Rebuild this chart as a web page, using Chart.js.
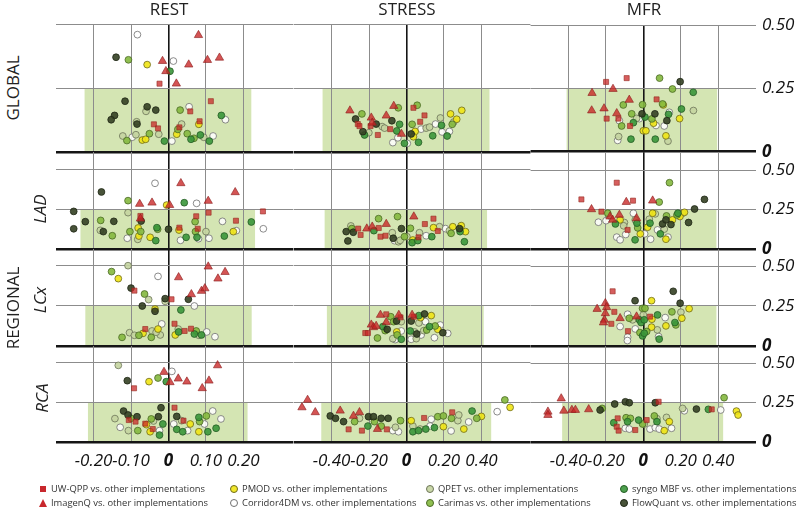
<!DOCTYPE html>
<html lang="en">
<head>
<meta charset="UTF-8" />
<title>Repeatability scatter panels</title>
<script src="https://cdn.jsdelivr.net/npm/chart.js"></script>
<style>
  * { margin: 0; padding: 0; box-sizing: border-box; }
  body { background: #fff; font-family: "Open Sans", sans-serif; color: #222; }
  #wrap { position: relative; width: 800px; height: 509px; overflow: hidden; background: #fff; }
  #wrap canvas { position: absolute; }
  .txt { position: absolute; white-space: nowrap; line-height: 1; }
  .title { font-size: 17px; transform: translate(-50%, 0); }
  .rot { transform: translate(-50%, -50%) rotate(-90deg); font-size: 17px; }
  .it { font-style: italic; }
  .leg { position: absolute; font-size: 9.4px; color: #333; white-space: nowrap; line-height: 1; transform: translateY(-50%); }
  .mk { position: absolute; transform: translate(-50%, -50%); }
  .sq { width: 6px; height: 6px; background: #c8282d; }
  .tri { width: 0; height: 0; border-left: 4.5px solid transparent; border-right: 4.5px solid transparent; border-bottom: 8px solid #c8282d; }
  .dot { width: 8px; height: 8px; border-radius: 50%; border: 1px solid #666; }
</style>
</head>
<body>
<div id="wrap"></div>
<script>
  // series codes: U UW-QPP, I ImagenQ, P PMOD, C Corridor4DM, Q QPET, A Carimas, S syngo MBF, F FlowQuant
  const columns = ['REST', 'STRESS', 'MFR'];
  const rowNames = ['GLOBAL', 'LAD', 'LCx', 'RCA'];
  const xTicksRest = [-0.2, -0.1, 0, 0.1, 0.2];
  const xTicksWide = [-0.4, -0.2, 0, 0.2, 0.4];
  const yTicks = [0, 0.25, 0.5];

  // shaded agreement boxes [lo, hi] per row
  const restBoxes = [[-0.224, 0.221], [-0.235, 0.231], [-0.222, 0.222], [-0.215, 0.211]];
  const stressBoxes = [[-0.448, 0.443], [-0.437, 0.43], [-0.425, 0.412], [-0.455, 0.452]];
  const mfrBoxes = [[-0.41, 0.395], [-0.4, 0.391], [-0.4, 0.391], [-0.434, 0.427]];

  const REST_GLOBAL = [
    ['C',-0.083,0.462],['I',0.08,0.46],['F',-0.14,0.373],['A',-0.107,0.363],['P',-0.057,0.344],['I',-0.016,0.358],
    ['C',0.013,0.358],['I',0.054,0.344],['I',0.104,0.362],['I',0.136,0.371],['I',-0.007,0.318],['S',0.004,0.318],
    ['U',-0.024,0.269],['I',0.021,0.269],['F',-0.116,0.2],['U',0.113,0.2],['F',-0.057,0.178],['F',-0.034,0.165],
    ['Q',-0.06,0.16],['A',0.031,0.165],['C',0.055,0.178],['U',0.058,0.16],['F',-0.144,0.144],['F',-0.153,0.127],
    ['S',0.141,0.144],['C',0.152,0.127],['Q',-0.085,0.119],['F',-0.084,0.11],['U',-0.039,0.109],['U',-0.028,0.093],
    ['Q',0.035,0.11],['U',0.029,0.097],['A',0.025,0.089],['P',0.081,0.109],['U',0.083,0.121],['Q',-0.122,0.063],
    ['A',-0.111,0.045],['C',-0.097,0.058],['Q',-0.087,0.068],['P',-0.07,0.047],['P',-0.061,0.05],['A',-0.051,0.072],
    ['Q',-0.026,0.07],['S',-0.011,0.043],['C',0.009,0.043],['P',0.022,0.07],['A',0.05,0.072],['S',0.06,0.05],
    ['A',0.068,0.054],['S',0.085,0.067],['Q',0.094,0.058],['S',0.109,0.043],['C',0.119,0.063]
  ];
  const STRESS_GLOBAL = [
    ['I',-0.302,0.163],['A',-0.238,0.15],['F',-0.272,0.13],['U',-0.26,0.11],['U',-0.251,0.102],['I',-0.188,0.135],
    ['U',-0.192,0.102],['I',-0.183,0.115],['F',-0.233,0.08],['S',-0.224,0.067],['Q',-0.201,0.076],['F',-0.162,0.11],
    ['U',-0.153,0.067],['Q',-0.13,0.1],['Q',-0.117,0.094],['I',-0.108,0.143],['U',-0.087,0.09],['I',-0.068,0.181],
    ['A',-0.044,0.174],['F',-0.078,0.123],['S',-0.037,0.109],['S',-0.052,0.083],['C',-0.046,0.056],['I',-0.027,0.071],
    ['C',-0.073,0.037],['S',-0.011,0.034],['C',0.004,0.034],['U',0.037,0.174],['A',0.057,0.184],['U',0.096,0.144],
    ['U',0.073,0.119],['A',0.03,0.109],['C',0.078,0.09],['P',0.046,0.081],['F',0.025,0.071],['P',0.037,0.06],
    ['S',0.064,0.038],['Q',0.105,0.094],['Q',0.123,0.098],['C',0.155,0.11],['Q',0.181,0.134],['S',0.187,0.105],
    ['C',0.19,0.079],['S',0.14,0.064],['S',0.217,0.063],['C',0.229,0.081],['A',0.244,0.109],['P',0.235,0.15],
    ['P',0.268,0.129],['P',0.295,0.164],['Q',0.252,0.118]
  ];
  const MFR_GLOBAL = [
    ['U',-0.199,0.276],['U',-0.089,0.291],['A',0.087,0.291],['F',0.197,0.277],['I',-0.274,0.232],['I',-0.162,0.248],
    ['A',0.156,0.248],['S',0.267,0.235],['I',-0.276,0.163],['I',-0.21,0.171],['U',-0.196,0.131],['I',-0.142,0.152],
    ['I',-0.075,0.205],['A',-0.107,0.185],['U',-0.133,0.131],['C',-0.128,0.123],['A',-0.116,0.102],['U',-0.071,0.102],
    ['A',-0.062,0.15],['S',-0.053,0.115],['Q',-0.036,0.132],['A',-0.004,0.186],['F',-0.007,0.15],['S',0.009,0.137],
    ['C',-0.021,0.131],['P',0,0.083],['P',0.014,0.083],['A',0.046,0.13],['F',0.062,0.15],['P',0.055,0.113],
    ['C',0.068,0.104],['P',0.107,0.185],['U',0.071,0.207],['A',0.103,0.189],['C',0.139,0.156],['S',0.135,0.148],
    ['F',0.126,0.123],['C',0.112,0.102],['S',0.204,0.169],['P',0.194,0.131],['Q',0.268,0.163],['Q',-0.132,0.06],
    ['C',-0.137,0.045],['S',-0.066,0.05],['S',0.064,0.05],['P',0.121,0.063],['Q',0.132,0.042]
  ];
  const REST_LAD = [
    ['C',-0.036,0.416],['I',0.033,0.416],['F',-0.179,0.361],['I',0.178,0.359],['A',-0.108,0.306],['I',-0.077,0.285],
    ['I',-0.044,0.293],['P',-0.005,0.278],['I',0.003,0.278],['S',0.042,0.293],['C',0.075,0.289],['I',0.106,0.304],
    ['F',-0.253,0.238],['Q',-0.108,0.23],['U',0.252,0.238],['F',-0.253,0.128],['F',-0.222,0.173],['A',-0.181,0.181],
    ['F',-0.146,0.175],['Q',-0.182,0.118],['F',-0.174,0.11],['A',-0.15,0.084],['U',-0.075,0.209],['I',-0.075,0.192],
    ['F',-0.073,0.177],['A',-0.103,0.11],['C',-0.11,0.068],['P',-0.081,0.133],['A',-0.074,0.11],['P',-0.079,0.082],
    ['Q',-0.082,0.061],['P',-0.049,0.074],['S',-0.034,0.053],['S',-0.031,0.135],['A',-0.029,0.125],['F',0,0.125],
    ['U',0.029,0.135],['P',0.028,0.12],['C',0.032,0.055],['S',0.047,0.074],['U',0.074,0.207],['A',0.071,0.173],
    ['A',0.072,0.11],['U',0.078,0.128],['S',0.076,0.074],['C',0.08,0.065],['Q',0.1,0.11],['C',0.108,0.068],
    ['U',0.107,0.23],['S',0.149,0.082],['C',0.144,0.175],['U',0.18,0.179],['P',0.173,0.11],['C',0.181,0.116],
    ['S',0.221,0.171],['C',0.253,0.128]
  ];
  const STRESS_LAD = [
    ['A',-0.149,0.192],['A',-0.048,0.205],['I',0.039,0.205],['U',0.144,0.192],['I',-0.108,0.158],['U',0.098,0.158],
    ['Q',-0.297,0.146],['A',-0.292,0.129],['U',-0.258,0.129],['F',-0.322,0.11],['F',-0.284,0.106],['U',-0.245,0.089],
    ['I',-0.212,0.129],['I',-0.183,0.141],['U',-0.148,0.133],['S',-0.174,0.116],['F',-0.313,0.051],['U',-0.139,0.078],
    ['U',-0.112,0.084],['Q',-0.076,0.103],['F',-0.071,0.068],['C',-0.064,0.053],['Q',-0.043,0.046],['Q',-0.034,0.055],
    ['F',-0.027,0.129],['A',-0.011,0.078],['Q',0.002,0.078],['A',0.021,0.131],['P',0.034,0.057],['S',0.03,0.04],
    ['S',0.06,0.053],['Q',0.069,0.103],['U',0.064,0.074],['C',0.105,0.084],['S',0.135,0.078],['P',0.144,0.135],
    ['U',0.167,0.114],['Q',0.176,0.141],['C',0.208,0.129],['P',0.247,0.141],['A',0.238,0.099],['Q',0.229,0.116],
    ['P',0.292,0.148],['F',0.283,0.129],['S',0.286,0.11],['P',0.315,0.11],['S',0.309,0.046]
  ];
  const MFR_LAD = [
    ['U',-0.142,0.42],['A',0.14,0.42],['U',-0.331,0.314],['I',-0.091,0.297],['U',-0.055,0.306],['I',0.05,0.306],
    ['A',0.085,0.297],['F',0.327,0.314],['F',0.274,0.253],['I',-0.277,0.251],['U',-0.224,0.236],['C',-0.24,0.169],
    ['A',-0.19,0.226],['I',-0.178,0.205],['I',-0.164,0.184],['I',-0.128,0.215],['C',-0.199,0.179],['S',-0.149,0.158],
    ['P',-0.124,0.184],['Q',-0.101,0.167],['Q',-0.105,0.146],['U',-0.084,0.12],['C',-0.053,0.226],['Q',-0.043,0.184],
    ['I',-0.036,0.194],['S',-0.034,0.163],['A',-0.03,0.133],['C',-0.094,0.091],['C',-0.142,0.074],['C',-0.124,0.057],
    ['S',-0.044,0.057],['P',-0.016,0.095],['C',0.007,0.095],['C',0.039,0.061],['P',0.023,0.137],['Q',0.032,0.188],
    ['S',0.036,0.163],['P',0.05,0.226],['Q',0.064,0.222],['C',0.076,0.12],['S',0.091,0.095],['P',0.121,0.061],
    ['C',0.132,0.074],['Q',0.112,0.125],['F',0.103,0.158],['F',0.121,0.184],['A',0.124,0.209],['P',0.156,0.184],
    ['F',0.148,0.154],['A',0.18,0.215],['S',0.185,0.226],['P',0.196,0.205],['Q',0.21,0.226],['P',0.22,0.232],
    ['F',0.242,0.167]
  ];
  const REST_LCX = [
    ['Q',-0.108,0.502],['A',-0.152,0.465],['P',-0.134,0.421],['C',-0.028,0.435],['I',0.106,0.496],['I',0.151,0.462],
    ['I',0.027,0.429],['I',0.132,0.421],['F',-0.1,0.362],['U',-0.091,0.346],['A',-0.064,0.325],['Q',-0.053,0.29],
    ['F',-0.009,0.296],['Q',-0.009,0.279],['U',0.008,0.292],['I',0.061,0.323],['I',0.088,0.344],['I',0.097,0.36],
    ['F',0.053,0.292],['C',0.069,0.25],['F',-0.07,0.25],['P',-0.036,0.231],['F',-0.036,0.217],['S',0.033,0.225],
    ['C',-0.018,0.138],['U',0.016,0.139],['Q',-0.104,0.083],['A',-0.124,0.054],['Q',-0.091,0.067],['A',-0.079,0.067],
    ['P',-0.068,0.079],['U',-0.062,0.106],['Q',-0.044,0.094],['A',-0.046,0.054],['P',-0.028,0.106],['Q',-0.022,0.069],
    ['Q',-0.033,0.086],['P',0.018,0.069],['S',0.027,0.088],['Q',0.026,0.106],['U',0.043,0.094],['U',0.06,0.108],
    ['S',0.069,0.075],['A',0.074,0.094],['Q',0.081,0.067],['S',0.088,0.069],['C',0.102,0.088],['C',0.124,0.058]
  ];
  const STRESS_LCX = [
    ['I',-0.139,0.194],['U',-0.108,0.198],['A',-0.084,0.183],['I',-0.041,0.194],['U',-0.032,0.179],['I',0.03,0.194],
    ['U',0.039,0.183],['S',0.066,0.19],['F',0.096,0.2],['P',0.075,0.177],['P',0.132,0.19],['I',-0.108,0.148],
    ['A',-0.069,0.152],['F',-0.053,0.156],['Q',-0.028,0.152],['F',0.025,0.156],['Q',0.066,0.144],['C',0.101,0.152],
    ['I',-0.188,0.133],['I',-0.176,0.117],['I',-0.162,0.125],['U',-0.22,0.081],['U',-0.206,0.081],['S',-0.126,0.121],
    ['F',-0.103,0.104],['A',-0.114,0.096],['P',-0.052,0.088],['C',-0.028,0.094],['A',-0.155,0.05],['Q',-0.073,0.046],
    ['A',-0.05,0.069],['S',-0.028,0.042],['C',-0.06,0.04],['S',0.02,0.094],['Q',0.043,0.088],['F',0.055,0.075],
    ['C',0.025,0.042],['Q',0.052,0.046],['C',0.078,0.069],['A',0.108,0.1],['S',0.123,0.121],['C',0.149,0.052],
    ['A',0.153,0.125],['P',0.167,0.104],['C',0.18,0.131],['F',0.194,0.083],['C',0.22,0.079],['Q',0.092,0.096]
  ];
  const MFR_LCX = [
    ['U',-0.164,0.342],['F',0.16,0.342],['F',-0.044,0.283],['P',0.044,0.283],['I',-0.203,0.267],['F',0.197,0.267],
    ['I',-0.247,0.231],['I',-0.196,0.242],['A',-0.004,0.235],['A',0.009,0.235],['P',0.245,0.233],['I',-0.203,0.204],
    ['U',-0.155,0.213],['C',-0.084,0.198],['Q',0,0.194],['S',0.076,0.194],['A',0.153,0.213],['Q',0.201,0.211],
    ['I',-0.208,0.163],['U',-0.171,0.138],['I',-0.213,0.146],['I',-0.124,0.173],['A',-0.075,0.173],['Q',-0.057,0.163],
    ['I',-0.036,0.183],['S',-0.021,0.163],['U',0.036,0.183],['P',0.046,0.167],['C',0.117,0.177],['P',0.206,0.173],
    ['S',0.169,0.146],['A',0.174,0.131],['C',-0.124,0.121],['C',-0.043,0.106],['S',-0.012,0.146],['S',0.005,0.163],
    ['P',0.044,0.117],['Q',0.075,0.1],['P',0.121,0.125],['U',-0.082,0.092],['C',-0.084,0.054],['C',-0.085,0.033],
    ['A',-0.018,0.083],['S',-0.004,0.062],['S',0.005,0.079],['A',0.018,0.09],['C',0.082,0.058],['S',0.085,0.042]
  ];
  const REST_RCA = [
    ['Q',-0.134,0.485],['I',0.131,0.485],['I',-0.012,0.443],['C',0.009,0.447],['A',-0.028,0.405],['F',-0.11,0.388],
    ['P',-0.052,0.382],['S',-0.006,0.382],['I',0.004,0.378],['I',0.026,0.401],['I',0.049,0.382],['I',0.108,0.388],
    ['I',0.09,0.34],['U',-0.092,0.34],['F',-0.02,0.217],['U',0.016,0.217],['F',-0.12,0.196],['F',-0.108,0.171],
    ['A',-0.1,0.15],['U',-0.106,0.139],['F',-0.084,0.16],['U',-0.088,0.129],['Q',-0.143,0.148],['C',-0.129,0.093],
    ['Q',-0.107,0.072],['A',-0.082,0.072],['U',-0.062,0.116],['P',-0.059,0.11],['A',-0.046,0.146],['Q',-0.04,0.133],
    ['F',-0.027,0.16],['U',-0.042,0.082],['P',-0.049,0.065],['S',-0.015,0.114],['S',-0.024,0.044],['C',-0.024,0.072],
    ['F',0.022,0.162],['C',0.014,0.114],['S',0.022,0.08],['Q',0.035,0.135],['U',0.04,0.135],['S',0.038,0.065],
    ['C',0.051,0.072],['P',0.058,0.114],['S',0.081,0.156],['A',0.083,0.129],['P',0.081,0.065],['C',0.096,0.114],
    ['A',0.101,0.165],['C',0.118,0.196],['S',0.105,0.065],['S',0.127,0.087],['C',0.14,0.146]
  ];
  const STRESS_RCA = [
    ['I',-0.528,0.266],['I',-0.558,0.219],['I',-0.487,0.188],['F',-0.407,0.165],['F',-0.379,0.15],['I',-0.354,0.198],
    ['F',-0.336,0.129],['U',-0.309,0.08],['I',-0.283,0.165],['I',-0.251,0.188],['A',-0.277,0.129],['Q',-0.251,0.15],
    ['U',-0.238,0.072],['S',-0.206,0.101],['F',-0.203,0.16],['F',-0.176,0.16],['A',-0.171,0.129],['I',-0.155,0.082],
    ['A',-0.135,0.101],['F',-0.135,0.15],['U',-0.105,0.08],['F',-0.098,0.15],['C',-0.073,0.072],['Q',-0.059,0.093],
    ['C',-0.043,0.065],['A',-0.032,0.135],['P',0.025,0.135],['Q',0.034,0.101],['S',0.034,0.065],['S',0.064,0.072],
    ['Q',0.073,0.082],['U',0.094,0.152],['C',0.132,0.144],['S',0.103,0.082],['C',0.126,0.101],['S',0.149,0.091],
    ['A',0.167,0.16],['A',0.197,0.165],['P',0.197,0.097],['C',0.238,0.07],['U',0.244,0.188],['A',0.24,0.15],
    ['Q',0.274,0.135],['Q',0.279,0.171],['P',0.306,0.082],['C',0.332,0.127],['S',0.35,0.196],['A',0.375,0.15],
    ['P',0.4,0.162],['C',0.484,0.192],['A',0.525,0.266],['P',0.553,0.219]
  ];
  const MFR_RCA = [
    ['I',-0.439,0.276],['I',-0.51,0.192],['I',-0.51,0.171],['I',-0.425,0.198],['I',-0.382,0.203],['I',-0.363,0.203],
    ['I',-0.292,0.207],['F',-0.231,0.203],['A',-0.22,0.213],['F',-0.153,0.241],['F',-0.096,0.255],['F',-0.075,0.249],
    ['F',0.064,0.249],['U',0.082,0.255],['Q',0.21,0.213],['C',0.219,0.198],['F',0.284,0.209],['S',0.348,0.207],
    ['U',0.366,0.207],['C',0.414,0.203],['A',0.432,0.281],['P',0.498,0.196],['P',0.507,0.171],['S',-0.158,0.122],
    ['U',-0.137,0.15],['U',-0.142,0.097],['U',-0.132,0.072],['A',-0.092,0.154],['S',-0.084,0.129],['A',-0.069,0.15],
    ['C',-0.096,0.087],['C',-0.075,0.082],['U',-0.043,0.076],['S',-0.025,0.139],['A',-0.004,0.114],['U',0.018,0.139],
    ['Q',0.005,0.114],['C',0.036,0.082],['C',0.064,0.091],['A',0.059,0.165],['Q',0.073,0.148],['S',0.073,0.129],
    ['P',0.112,0.072],['C',0.085,0.082],['Q',0.124,0.156],['P',0.139,0.129],['C',0.151,0.087]
  ];

  const panels = [
    [REST_GLOBAL, STRESS_GLOBAL, MFR_GLOBAL],
    [REST_LAD, STRESS_LAD, MFR_LAD],
    [REST_LCX, STRESS_LCX, MFR_LCX],
    [REST_RCA, STRESS_RCA, MFR_RCA]
  ];

  // marker looks
  const SERIES = {
    C: { name: 'Corridor4DM', shape: 'circle', r: 3.4, fill: 'rgba(255,255,255,0.85)', line: '#6f6f6f' },
    Q: { name: 'QPET', shape: 'circle', r: 3.4, fill: 'rgba(196,212,160,0.9)', line: '#6c7458' },
    P: { name: 'PMOD', shape: 'circle', r: 3.4, fill: 'rgba(240,228,20,0.9)', line: '#6e6a1c' },
    A: { name: 'Carimas', shape: 'circle', r: 3.4, fill: 'rgba(132,184,62,0.9)', line: '#4a6a25' },
    S: { name: 'syngo MBF', shape: 'circle', r: 3.4, fill: 'rgba(58,150,58,0.9)', line: '#245c24' },
    F: { name: 'FlowQuant', shape: 'circle', r: 3.4, fill: 'rgba(52,64,36,0.9)', line: '#1e2614' },
    U: { name: 'UW-QPP', shape: 'rect', r: 3.6, fill: 'rgba(200,40,40,0.75)', line: 'rgba(150,40,30,0.75)' },
    I: { name: 'ImagenQ', shape: 'triangle', r: 4.8, fill: 'rgba(200,36,36,0.78)', line: 'rgba(140,30,30,0.78)' }
  };

  // layout geometry (pixels): where each panel's plot area must land
  const colGeo = [
    { left: 56, width: 238, center: 169, ppu: 375, ticks: xTicksRest, boxes: restBoxes },
    { left: 294, width: 237, center: 407, ppu: 187.5, ticks: xTicksWide, boxes: stressBoxes },
    { left: 531, width: 226, center: 644, ppu: 187.5, ticks: xTicksWide, boxes: mfrBoxes }
  ];
  const rowGeo = [
    { top: 25, bottom: 152, ppu: 254 },
    { top: 152, bottom: 249, ppu: 158 },
    { top: 249, bottom: 346, ppu: 160 },
    { top: 346, bottom: 442, ppu: 158 }
  ];
  const PAD = 12, RIGHT_AXIS = 44, X_AXIS = 34;
  const FONT = 'Open Sans';

  const boxPlugin = {
    id: 'agreeBox',
    beforeDraw(chart, args, opts) {
      const { ctx, scales: { x, y } } = chart;
      const x0 = x.getPixelForValue(opts.range[0]);
      const x1 = x.getPixelForValue(opts.range[1]);
      const y0 = y.getPixelForValue(0.25);
      const y1 = y.getPixelForValue(0);
      ctx.save();
      ctx.fillStyle = '#d4e5b3';
      ctx.fillRect(x0, y0, x1 - x0, y1 - y0);
      ctx.restore();
    }
  };

  const isZero = c => c.tick && Math.abs(c.tick.value) < 1e-9;
  const tickFont = c => ({ family: FONT, size: 17, style: 'italic', weight: isZero(c) ? 'bold' : 'normal' });
  const fmt = v => (Math.abs(v) < 1e-9 ? '0' : Number(v).toFixed(2));

  const wrap = document.getElementById('wrap');

  function buildChart(ri, ci, cw, ch) {
    const cg = colGeo[ci], rg = rowGeo[ri];
    const lastRow = ri === rowGeo.length - 1;
    const rightCol = ci === colGeo.length - 1;
    const h = rg.bottom - rg.top;
    const canvas = document.createElement('canvas');
    canvas.width = cw; canvas.height = ch;
    wrap.appendChild(canvas);

    const pts = panels[ri][ci];
    const datasets = Object.keys(SERIES).map(code => {
      const s = SERIES[code];
      return {
        label: s.name,
        data: pts.filter(p => p[0] === code).map(p => ({ x: p[1], y: p[2] })),
        pointStyle: s.shape,
        pointRadius: s.r,
        pointBackgroundColor: s.fill,
        pointBorderColor: s.line,
        pointBorderWidth: 0.8,
        showLine: false,
        clip: false
      };
    }).reverse();

    const chart = new Chart(canvas, {
      type: 'scatter',
      data: { datasets },
      plugins: [boxPlugin],
      options: {
        responsive: false,
        maintainAspectRatio: false,
        animation: false,
        devicePixelRatio: 1,
        events: [],
        layout: { padding: { top: PAD, bottom: lastRow ? 0 : PAD, left: 0, right: 0 } },
        plugins: {
          legend: { display: false },
          tooltip: { enabled: false },
          agreeBox: { range: cg.boxes[ri] }
        },
        scales: {
          x: {
            type: 'linear',
            min: (cg.left - cg.center) / cg.ppu,
            max: (cg.left + cg.width - cg.center) / cg.ppu,
            afterBuildTicks: s => { s.ticks = cg.ticks.map(v => ({ value: v })); },
            afterFit: s => { s.height = lastRow ? X_AXIS : 0; },
            border: { display: false },
            grid: {
              drawTicks: false,
              color: c => (isZero(c) ? '#151515' : '#8c8c8c'),
              lineWidth: c => (isZero(c) ? 1.6 : 1)
            },
            ticks: {
              display: lastRow,
              autoSkip: false,
              maxRotation: 0,
              padding: 9,
              color: '#111',
              font: tickFont,
              callback: fmt
            }
          },
          y: {
            type: 'linear',
            position: rightCol ? 'right' : 'left',
            min: 0,
            max: h / rg.ppu,
            afterBuildTicks: s => { s.ticks = yTicks.map(v => ({ value: v })); },
            afterFit: s => { s.width = rightCol ? RIGHT_AXIS : 0; },
            border: { display: false },
            grid: {
              drawTicks: false,
              color: c => (isZero(c) ? '#151515' : '#8c8c8c'),
              lineWidth: c => (isZero(c) ? 2.6 : 1.1)
            },
            ticks: {
              display: rightCol,
              autoSkip: false,
              padding: 6,
              color: '#111',
              font: tickFont,
              callback: fmt
            }
          }
        }
      }
    });
    return { canvas, chart };
  }

  // build once, measure how much room the axes took, rebuild so the plot area lands exactly
  function makePanel(ri, ci) {
    const cg = colGeo[ci], rg = rowGeo[ri];
    const h = rg.bottom - rg.top;
    let p = buildChart(ri, ci, cg.width + 50, h + 50);
    let ca = p.chart.chartArea;
    const extraW = p.canvas.width - (ca.right - ca.left);
    const extraH = p.canvas.height - (ca.bottom - ca.top);
    p.chart.destroy(); p.canvas.remove();
    p = buildChart(ri, ci, cg.width + extraW, h + extraH);
    ca = p.chart.chartArea;
    p.canvas.style.left = (cg.left - ca.left) + 'px';
    p.canvas.style.top = (rg.top - ca.top) + 'px';
  }

  for (let r = 0; r < rowGeo.length; r++) {
    for (let c = 0; c < colGeo.length; c++) makePanel(r, c);
  }

  // text labels
  function addText(html, cls, x, y) {
    const d = document.createElement('div');
    d.className = 'txt ' + cls;
    d.style.left = x + 'px';
    d.style.top = y + 'px';
    d.innerHTML = html;
    wrap.appendChild(d);
  }
  columns.forEach((t, i) => addText(t, 'title', colGeo[i].center, 0));
  addText(rowNames[0], 'rot', 12, 88);
  addText('REGIONAL', 'rot', 12, 308);
  addText(rowNames[1], 'rot it', 39, 209);
  addText(rowNames[2], 'rot it', 39, 300);
  addText(rowNames[3], 'rot it', 41, 398);

  // legend
  const legendItems = [
    ['U', 'sq', 43, 489], ['I', 'tri', 43, 503],
    ['P', 'dot', 234, 489], ['C', 'dot', 234, 503],
    ['Q', 'dot', 430, 489], ['A', 'dot', 430, 503],
    ['S', 'dot', 624, 489], ['F', 'dot', 624, 503]
  ];
  legendItems.forEach(([code, kind, x, y]) => {
    const m = document.createElement('div');
    m.className = 'mk ' + kind;
    m.style.left = x + 'px';
    m.style.top = y + 'px';
    if (kind === 'dot') {
      m.style.background = SERIES[code].fill;
      m.style.borderColor = SERIES[code].line;
    }
    wrap.appendChild(m);
    const t = document.createElement('div');
    t.className = 'leg';
    t.style.left = (x + 8) + 'px';
    t.style.top = y + 'px';
    t.textContent = SERIES[code].name + ' vs. other implementations';
    wrap.appendChild(t);
  });
</script>
</body>
</html>
